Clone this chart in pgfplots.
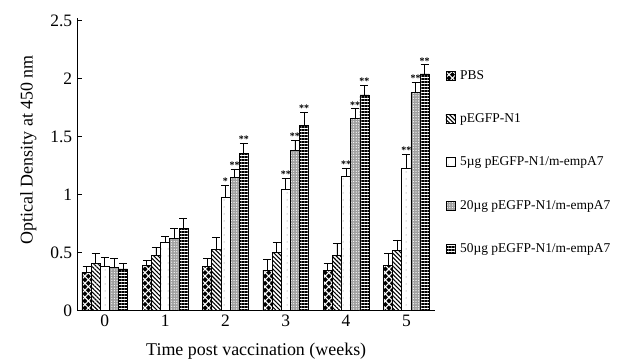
\documentclass[border=0pt]{standalone}
\usepackage{pgfplots}
\pgfplotsset{compat=1.18}
\usetikzlibrary{patterns,patterns.meta}
\usepackage{fontspec}
\setmainfont{Liberation Serif}
\begin{document}
\begin{tikzpicture}
\path[use as bounding box] (-77.7bp,-50.3bp) rectangle (549.3bp,310.7bp);
\begin{axis}[
  anchor=south west, at={(0,0)},
  scale only axis, width=357bp, height=292.4bp,
  ybar, bar width=0.152,
  xmin=-0.45, xmax=5.47, ymin=0, ymax=2.52,
  axis lines=left, axis line style={-, black, line width=0.7bp},
  xtick={0,1,2,3,4,5},
  major x tick style={draw=none},
  extra x ticks={0.5,1.5,2.5,3.5,4.5,5.47},
  extra x tick labels={},
  extra x tick style={major tick length=4bp, tick style={black, line width=0.7bp}},
  ytick={0,0.5,1,1.5,2,2.5},
  yticklabels={0,0.5,1,1.5,2,2.5},
  y tick style={black, line width=0.7bp},
  major tick length=4bp,
  tick align=inside,
  /pgf/number format/assume math mode=true,
  ticklabel style={font=\fontsize{17.5}{19}\selectfont},
  yticklabel style={xshift=-2bp},
  xticklabel style={yshift=-1bp},
  xlabel={Time post vaccination (weeks)},
  ylabel={Optical Density at 450 nm},
  label style={font=\fontsize{18}{20}\selectfont},
  xlabel style={at={(axis description cs:0.5,0)}, anchor=center, yshift=-40bp},
  ylabel style={at={(axis description cs:-0.138,0.55)}, anchor=center},
  legend cell align=left,
  legend style={draw=none, fill=none, at={(1.03,0.83)}, anchor=north west,
    font=\fontsize{13.5}{15}\selectfont, row sep=29bp, column sep=3bp, inner sep=0pt},
  legend image code/.code={\draw[#1, line width=0.6bp] (0bp,-4.5bp) rectangle (9bp,4.5bp);},
  error bars/y dir=plus, error bars/y explicit,
  error bars/error bar style={black, line width=0.7bp},
  error bars/error mark options={rotate=90, mark size=4bp, line width=0.7bp, black},
  nodes near coords style={font=\fontsize{10}{10}\selectfont\bfseries, inner sep=0.5bp, anchor=south},
]
% PBS
\addplot[draw=black, line width=0.6bp, fill=black, bar shift=-0.304,
  postaction={pattern={Lines[angle=45,distance=5bp,line width=1.1bp]}, pattern color=white},
  postaction={pattern={Lines[angle=-45,distance=5bp,line width=1.1bp]}, pattern color=white}]
  coordinates {(0,0.33)+-(0,0.05) (1,0.39)+-(0,0.04) (2,0.38)+-(0,0.07) (3,0.35)+-(0,0.09) (4,0.35)+-(0,0.06) (5,0.39)+-(0,0.10)};
\addlegendentry{PBS}
% pEGFP-N1
\addplot[draw=black, line width=0.6bp, fill=white, bar shift=-0.152,
  postaction={pattern={Lines[angle=-45,distance=3bp,line width=1.1bp]}, pattern color=black}]
  coordinates {(0,0.41)+-(0,0.08) (1,0.48)+-(0,0.07) (2,0.53)+-(0,0.10) (3,0.50)+-(0,0.09) (4,0.48)+-(0,0.10) (5,0.52)+-(0,0.09)};
\addlegendentry{pEGFP-N1}
% 5ug
\addplot[draw=black, line width=0.6bp, fill=white, bar shift=0,
  postaction={pattern={Dots[distance=7bp,radius=0.5bp]}, pattern color=gray}]
  coordinates {(0,0.38)+-(0,0.08) (1,0.59)+-(0,0.05) (2,0.98)+-(0,0.10) (3,1.05)+-(0,0.09) (4,1.16)+-(0,0.07) (5,1.23)+-(0,0.12)};
\addlegendentry{5µg pEGFP-N1/m-empA7}
% 20ug
\addplot[draw=black, line width=0.6bp, fill=gray!75, bar shift=0.152,
  postaction={pattern={Dots[distance=2.6bp,radius=0.65bp]}, pattern color=white}]
  coordinates {(0,0.37)+-(0,0.08) (1,0.62)+-(0,0.09) (2,1.15)+-(0,0.07) (3,1.38)+-(0,0.09) (4,1.66)+-(0,0.08) (5,1.88)+-(0,0.09)};
\addlegendentry{20µg pEGFP-N1/m-empA7}
% 50ug
\addplot[draw=black, line width=0.6bp, fill=white, bar shift=0.304,
  postaction={pattern={Lines[angle=0,distance=3bp,line width=1.3bp]}, pattern color=black}]
  coordinates {(0,0.36)+-(0,0.05) (1,0.71)+-(0,0.09) (2,1.36)+-(0,0.08) (3,1.60)+-(0,0.11) (4,1.86)+-(0,0.08) (5,2.04)+-(0,0.08)};
\addlegendentry{50µg pEGFP-N1/m-empA7}
% significance labels
\addplot[forget plot, draw=none, fill=none, bar shift=0, nodes near coords, point meta=explicit symbolic]
  coordinates {(2,1.08)[*] (3,1.14)[**] (4,1.23)[**] (5,1.35)[**]};
\addplot[forget plot, draw=none, fill=none, bar shift=0.152, nodes near coords, point meta=explicit symbolic]
  coordinates {(2,1.22)[**] (3,1.47)[**] (4,1.74)[**] (5,1.97)[**]};
\addplot[forget plot, draw=none, fill=none, bar shift=0.304, nodes near coords, point meta=explicit symbolic]
  coordinates {(2,1.44)[**] (3,1.71)[**] (4,1.94)[**] (5,2.12)[**]};
\end{axis}
\end{tikzpicture}
\end{document}
